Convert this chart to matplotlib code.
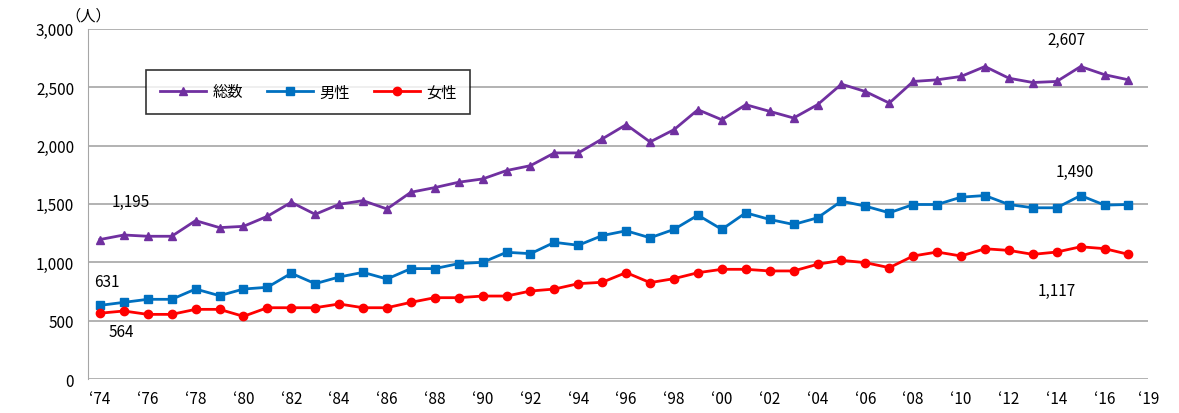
import matplotlib
matplotlib.use("Agg")
import matplotlib.pyplot as plt

plt.rcParams['font.family'] = ['Noto Sans CJK JP', 'DejaVu Sans']

years = list(range(1974, 2018))
total = [1195,1234,1223,1223,1357,1297,1308,1394,1514,1411,1497,1528,1457,1600,1640,1686,1714,1786,1828,1937,1937,2057,2179,
         2031,2136,2307,2221,2350,2293,2236,2350,2526,2463,2364,2549,2563,2592,2677,2577,2540,2549,2677,2607,2563]
male = [631,657,683,683,771,714,771,786,906,817,874,914,857,946,946,989,1000,1086,1074,1171,1146,1229,1270,
        1210,1282,1404,1282,1424,1367,1324,1381,1524,1481,1424,1495,1495,1558,1572,1495,1467,1467,1572,1490,1495]
female = [564,583,554,554,597,597,537,611,611,611,643,611,611,657,697,697,711,711,754,771,817,829,912,
          826,860,911,940,940,926,926,983,1017,997,954,1054,1088,1054,1116,1102,1068,1088,1133,1117,1068]
tick_years = list(range(1974, 2017, 2))
tick_labels = ["\u2018%02d" % (y % 100) for y in tick_years]

fig = plt.figure(figsize=(11.79, 4.14), dpi=100)
ax = fig.add_axes([0.0746, 0.082, 0.974 - 0.0746, 0.928 - 0.082])

ax.plot(years, total, color='#7030A0', marker='^', ms=6, lw=2, label='総数')
ax.plot(years, male, color='#0070C0', marker='s', ms=6, lw=2, label='男性')
ax.plot(years, female, color='#FF0000', marker='o', ms=6, lw=2, label='女性')

ax.set_xlim(1973.5, 2017.57)
ax.set_ylim(0, 3000)
ax.set_yticks(range(0, 3001, 500))
ax.set_yticklabels([f"{v:,}" for v in range(0, 3001, 500)], fontsize=11)
ax.set_xticks(tick_years + [2017.83])
ax.set_xticklabels(tick_labels + ["\u201819"], fontsize=11)
ax.tick_params(length=0, pad=8)
ax.tick_params(axis='y', pad=10)
ax.grid(axis='y', color='#a6a6a6', lw=1.2)
ax.set_axisbelow(True)
for s in ['top', 'right', 'bottom']:
    ax.spines[s].set_visible(False)
ax.spines['left'].set_color('#a6a6a6')

ax.text(0.0, 1.015, "（人）", transform=ax.transAxes, ha='center', va='bottom', fontsize=11)

ax.annotate("1,195", (1974, 1195), xytext=(1975.3, 1480), ha='center', fontsize=11)
ax.annotate("631", (1974, 631), xytext=(1974.3, 800), ha='center', fontsize=11)
ax.annotate("564", (1974, 564), xytext=(1974.9, 370), ha='center', fontsize=11)
ax.annotate("2,607", (2016, 2607), xytext=(2014.4, 2870), ha='center', fontsize=11)
ax.annotate("1,490", (2016, 1490), xytext=(2014.75, 1740), ha='center', fontsize=11)
ax.annotate("1,117", (2016, 1117), xytext=(2014.0, 720), ha='center', fontsize=11)

leg = ax.legend(loc='upper left', bbox_to_anchor=(0.048, 0.905), ncol=3, frameon=True,
                fancybox=False, edgecolor='black', fontsize=11, handlelength=3.0,
                columnspacing=1.6, handletextpad=0.4, borderpad=0.9)
leg.get_frame().set_linewidth(1.2)

fig.savefig("out.png", dpi=100)
